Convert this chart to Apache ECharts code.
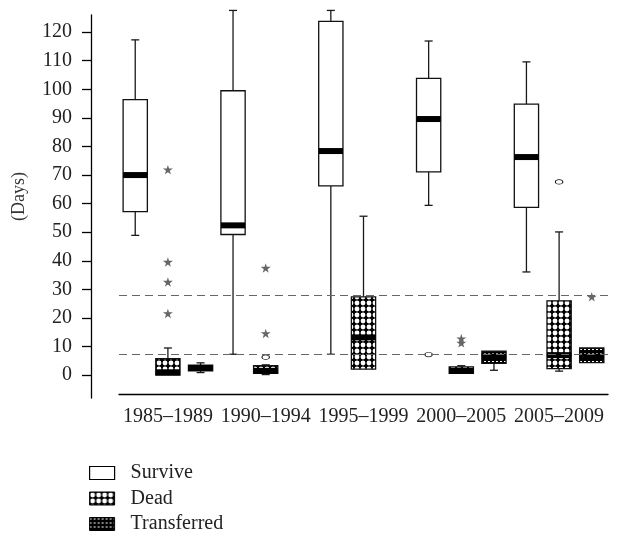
<!DOCTYPE html>
<html>
<head>
<meta charset="utf-8">
<script src="https://cdn.jsdelivr.net/npm/echarts@6/dist/echarts.min.js"></script>
<style>
  html, body { margin: 0; padding: 0; background: #fff; }
  #Boxes { width: 617px; height: 535px; }
</style>
</head>
<body>
<div id="Boxes"></div>
<script>
// categories and box values: [min, q1, median, q3, max]
const categories = ['1985–1989', '1990–1994', '1995–1999', '2000–2005', '2005–2009'];
const surviveBox = [
  [48.9, 57.2, 70, 96.4, 117.3],
  [7.3, 49.2, 52.4, 99.5, 127.6],
  [7.3, 66.2, 78.4, 123.8, 127.6],
  [59.4, 71.1, 89.6, 103.8, 116.9],
  [36.1, 58.7, 76.3, 94.8, 109.6]
];
const deadBox = [
  [0, 0, 1, 5.8, 9.5],
  [0.2, 0.6, 1.5, 3.3, 3.6],
  [2.1, 2.1, 13.2, 27.4, 55.6],
  [0.6, 0.6, 1.5, 2.9, 3.3],
  [1.4, 2.3, 7, 26, 50.1]
];
const transferredBox = [
  [0.9, 1.5, 2.5, 3.5, 4.3],
  null,
  null,
  [1.7, 4.1, 6.5, 8.4, 8.4],
  [4.4, 4.4, 6.5, 9.5, 9.5]
];
// outliers: [category index, value]
const surviveCircles = [[3, 7.2]];
const deadStars = [[0, 71.9], [0, 39.6], [0, 32.6], [0, 21.6], [1, 37.5], [1, 14.6], [3, 12.8], [3, 11.3]];
const deadCircles = [[1, 6.3], [4, 67.6]];
const transferredStars = [[4, 27.4]];
const refLines = [28.1, 7.2];
const yTicks = [0, 10, 20, 30, 40, 50, 60, 70, 80, 90, 100, 110, 120];

const serif = "'Liberation Serif', 'DejaVu Serif', serif";

// fill patterns
function dotPattern() {
  const c = document.createElement('canvas');
  c.width = 6; c.height = 6;
  const ctx = c.getContext('2d');
  ctx.fillStyle = '#000';
  ctx.fillRect(0, 0, 6, 6);
  ctx.fillStyle = '#fff';
  ctx.beginPath();
  ctx.arc(3, 3, 2.4, 0, Math.PI * 2);
  ctx.fill();
  return { image: c, repeat: 'repeat' };
}
function dashPattern() {
  const c = document.createElement('canvas');
  c.width = 4; c.height = 4;
  const ctx = c.getContext('2d');
  ctx.fillStyle = '#000';
  ctx.fillRect(0, 0, 4, 4);
  ctx.fillStyle = '#fff';
  ctx.fillRect(0, 1, 2, 1);
  return { image: c, repeat: 'repeat' };
}
const deadFill = dotPattern();
const transFill = dashPattern();

const STAR = 'M50,0 L61,35 L98,35 L68,57 L79,91 L50,70 L21,91 L32,57 L2,35 L39,35 Z';

function boxRenderer(offset, fill) {
  return function (params, api) {
    const cat = api.value(0);
    const band = api.size([1, 0])[0];
    const cx = api.coord([cat, 0])[0] + offset * band;
    const w = band * 0.248;
    const cap = band * 0.082;
    const y = [1, 2, 3, 4, 5].map(k => api.coord([cat, api.value(k)])[1]);
    const line = { stroke: '#1a1a1a', lineWidth: 1.3 };
    const children = [];
    if (y[4] < y[3] - 0.5) {
      children.push({ type: 'line', shape: { x1: cx, y1: y[4], x2: cx, y2: y[3] }, style: line });
      children.push({ type: 'line', shape: { x1: cx - cap / 2, y1: y[4], x2: cx + cap / 2, y2: y[4] }, style: line });
    }
    if (y[0] > y[1] + 0.5) {
      children.push({ type: 'line', shape: { x1: cx, y1: y[1], x2: cx, y2: y[0] }, style: line });
      children.push({ type: 'line', shape: { x1: cx - cap / 2, y1: y[0], x2: cx + cap / 2, y2: y[0] }, style: line });
    }
    children.push({
      type: 'rect',
      shape: { x: cx - w / 2, y: y[3], width: w, height: y[1] - y[3] },
      style: { fill: fill, stroke: '#111', lineWidth: 1.3 }
    });
    children.push({
      type: 'rect',
      shape: { x: cx - w / 2, y: y[2] - 3, width: w, height: 6 },
      style: { fill: '#000' }
    });
    return { type: 'group', children: children };
  };
}

function outlierRenderer(offset, kind) {
  return function (params, api) {
    const cat = api.value(0);
    const band = api.size([1, 0])[0];
    const cx = api.coord([cat, 0])[0] + offset * band;
    const cy = api.coord([cat, api.value(1)])[1];
    if (kind === 'star') {
      return {
        type: 'path',
        shape: { pathData: STAR, x: cx - 5, y: cy - 5, width: 10, height: 10, layout: 'center' },
        style: { fill: '#666' }
      };
    }
    return {
      type: 'circle',
      x: cx, y: cy, scaleY: 0.62,
      shape: { cx: 0, cy: 0, r: 3.7 },
      style: { fill: '#fff', stroke: '#111', lineWidth: 1.1 }
    };
  };
}

function boxData(arr) {
  return arr.map((d, i) => d ? [i].concat(d) : null).filter(d => d);
}

const myChart = echarts.init(document.getElementById('Boxes'));
const option = {
  animation: false,
  textStyle: { fontFamily: serif },
  grid: { left: 119, right: 9, top: 15, bottom: 137 },
  legend: {
    orient: 'vertical',
    left: 89,
    top: 463,
    padding: 0,
    itemWidth: 25,
    itemHeight: 13,
    itemGap: 5.5,
    selectedMode: false,
    textStyle: { fontFamily: serif, fontSize: 20, color: '#222', padding: [0, 0, 0, 11] },
    data: [
      { name: 'Survive', icon: 'rect', itemStyle: { color: '#fff', borderColor: '#000', borderWidth: 1.2 } },
      { name: 'Dead', icon: 'rect', itemStyle: { color: deadFill, borderColor: '#000', borderWidth: 1 } },
      { name: 'Transferred', icon: 'rect', itemStyle: { color: transFill, borderColor: '#000', borderWidth: 1 } }
    ]
  },
  xAxis: {
    type: 'category',
    data: categories,
    offset: -4,
    axisLine: { onZero: false, lineStyle: { color: '#000', width: 1.3 } },
    axisTick: { alignWithLabel: true, length: 5, lineStyle: { color: '#000', width: 1.3 } },
    axisLabel: { interval: 0, hideOverlap: false, margin: 13, fontSize: 20, color: '#222', fontFamily: serif },
    splitLine: { show: false }
  },
  yAxis: {
    type: 'value',
    min: -8,
    max: 126,
    offset: 28,
    name: '(Days)',
    nameLocation: 'middle',
    nameGap: 63,
    nameTextStyle: { fontSize: 18, color: '#333', fontFamily: serif, padding: [0, 0, 0, 20] },
    axisLine: { show: true, lineStyle: { color: '#000', width: 1.3 } },
    axisTick: { show: true, length: 9, customValues: yTicks, lineStyle: { color: '#000', width: 1.3 } },
    axisLabel: { margin: 19, fontSize: 20, color: '#222', fontFamily: serif, customValues: yTicks },
    splitLine: { show: false }
  },
  series: [
    {
      type: 'line',
      data: [],
      silent: true,
      markLine: {
        silent: true,
        symbol: 'none',
        label: { show: false },
        lineStyle: { type: [8, 5], color: '#666', width: 1 },
        data: refLines.map(v => ({ yAxis: v }))
      }
    },
    {
      name: 'Survive', type: 'custom', renderItem: boxRenderer(-0.334, '#fff'),
      encode: { x: 0, y: [1, 2, 3, 4, 5] }, data: boxData(surviveBox)
    },
    {
      name: 'Dead', type: 'custom', renderItem: boxRenderer(0, deadFill),
      encode: { x: 0, y: [1, 2, 3, 4, 5] }, data: boxData(deadBox)
    },
    {
      name: 'Transferred', type: 'custom', renderItem: boxRenderer(0.334, transFill),
      encode: { x: 0, y: [1, 2, 3, 4, 5] }, data: boxData(transferredBox)
    },
    { type: 'custom', renderItem: outlierRenderer(-0.334, 'circle'), encode: { x: 0, y: 1 }, data: surviveCircles },
    { type: 'custom', renderItem: outlierRenderer(0, 'star'), encode: { x: 0, y: 1 }, data: deadStars },
    { type: 'custom', renderItem: outlierRenderer(0, 'circle'), encode: { x: 0, y: 1 }, data: deadCircles },
    { type: 'custom', renderItem: outlierRenderer(0.334, 'star'), encode: { x: 0, y: 1 }, data: transferredStars }
  ]
};
myChart.setOption(option);
window.addEventListener('resize', function () {
  myChart.resize();
});
</script>
</body>
</html>
